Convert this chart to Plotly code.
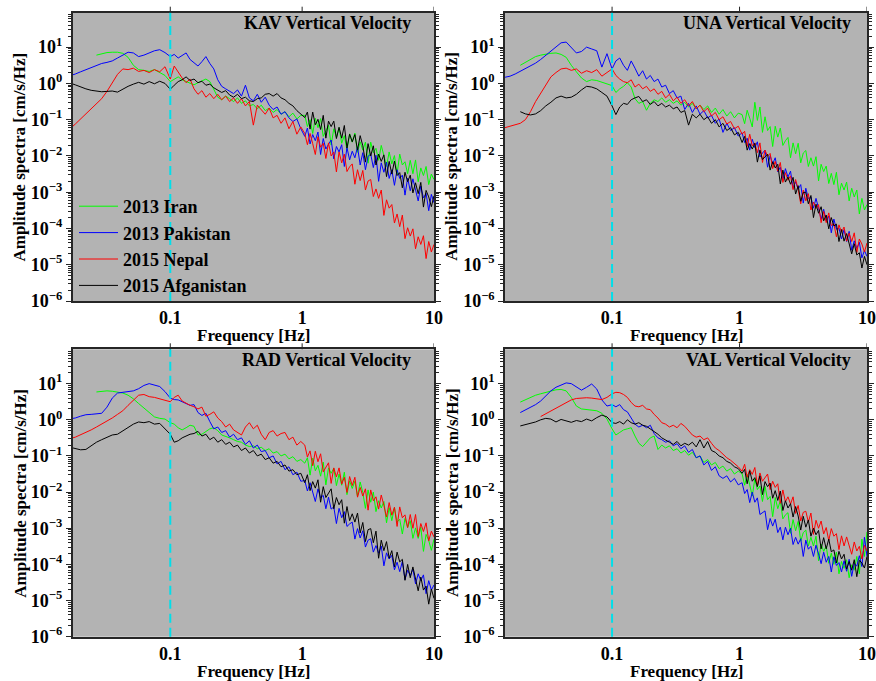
import plotly.graph_objects as go

# ---------------------------------------------------------------- data
# frequency grid, log10(Hz)
LOG_FREQ = (
    [-1.84, -1.80, -1.76, -1.72, -1.68, -1.64, -1.60, -1.56, -1.52, -1.48,
     -1.44, -1.40, -1.36, -1.32, -1.28, -1.24, -1.20, -1.16, -1.12, -1.08,
     -1.04, -1.00]
    + [-0.97, -0.94, -0.91, -0.88, -0.85, -0.82, -0.79, -0.76, -0.73, -0.70,
       -0.67, -0.64, -0.61, -0.58, -0.55, -0.52, -0.49, -0.46, -0.43, -0.40,
       -0.37, -0.34, -0.31, -0.28, -0.25, -0.22, -0.19, -0.16, -0.13, -0.10,
       -0.07, -0.04, -0.01]
    + [0.02, 0.04, 0.06, 0.08, 0.10, 0.12, 0.14, 0.16, 0.18, 0.20,
       0.22, 0.24, 0.26, 0.28, 0.30, 0.32, 0.34, 0.36, 0.38, 0.40,
       0.42, 0.44, 0.46, 0.48, 0.50, 0.52, 0.54, 0.56, 0.58, 0.60,
       0.62, 0.64, 0.66, 0.68, 0.70, 0.72, 0.74, 0.76, 0.78, 0.80,
       0.82, 0.84, 0.86, 0.88, 0.90, 0.92, 0.94, 0.96, 0.98, 1.00]
)

N = None
# amplitude spectra, log10(cm/s/Hz), one list per event and station
KAV_IRAN = (
    [N, N, N, N, N, N, N, 0.78, 0.82, 0.85, 0.86, 0.86, 0.83, 0.72, 0.50,
     0.38, 0.36, 0.33, 0.38, 0.30, 0.22, 0.05]
    + [0.12, 0.18, 0.10, 0.05, 0.00, -0.04, 0.02, 0.06, 0.12, 0.05,
       -0.18, -0.38, -0.45, -0.35, -0.42, -0.50, -0.40, -0.55, -0.48, -0.62,
       -0.58, -0.70, -0.60, -0.75, -0.68, -0.80, -0.72, -0.85, -0.78, -0.92,
       -0.82, -0.98, -0.88]
    + [-0.88, -1.19, -1.00, -1.38, -0.96, -1.22, -0.97, -1.46, -1.29, -1.15,
       -1.70, -1.25, -1.49, -1.22, -1.65, -1.44, -1.84, -1.39, -1.62, -1.37,
       -1.90, -1.61, -1.84, -1.62, -2.20, -1.62, -1.91, -1.79, -2.12, -1.71,
       -1.99, -2.29, -1.89, -2.22, -1.99, -2.50, -1.95, -2.25, -2.16, -2.49,
       -2.12, -2.49, -2.11, -2.71, -2.33, -2.54, -2.29, -2.79, -2.50, -2.65]
)
KAV_PAK = (
    [0.12, 0.16, 0.21, 0.26, 0.32, 0.38, 0.44, 0.50, 0.55, 0.58,
     0.62, 0.70, 0.78, 0.86, 0.84, 0.74, 0.78, 0.85, 0.90, 0.93, 0.85, 0.74]
    + [0.80, 0.70, 0.78, 0.84, 0.66, 0.58, 0.48, 0.60, 0.74, 0.55,
       0.40, 0.10, -0.08, -0.15, -0.22, -0.28, -0.18, -0.35, -0.05, -0.40,
       -0.48, -0.30, -0.52, -0.38, -0.60, -0.72, -0.65, -0.85, -0.78, -0.95,
       -1.05, -0.98, -1.25]
    + [-1.46, -1.23, -1.67, -1.41, -1.58, -1.34, -1.96, -1.52, -1.81, -1.68,
       -1.56, -2.08, -1.74, -1.89, -1.69, -2.29, -1.77, -2.11, -1.87, -2.05,
       -1.75, -2.25, -1.91, -2.38, -2.01, -1.95, -2.32, -1.98, -2.70, -2.19,
       -2.45, -2.17, -2.62, -2.38, -2.81, -2.38, -2.62, -2.53, -3.08, -2.61,
       -2.96, -2.63, -2.97, -3.24, -2.83, -3.16, -3.03, -3.51, -3.06, -3.29]
)
KAV_NEP = (
    [-1.45, -1.35, -1.25, -1.12, -0.98, -0.85, -0.72, -0.56, -0.42, -0.22,
     0.02, 0.25, 0.40, 0.38, 0.42, 0.33, 0.36, 0.30, 0.38, 0.32, 0.46, 0.12]
    + [0.48, 0.30, 0.15, 0.02, 0.12, -0.15, -0.30, -0.20, -0.38, -0.28,
       -0.42, -0.30, -0.45, -0.35, -0.50, -0.40, -0.55, -0.42, -0.62, -0.50,
       -1.15, -0.60, -0.72, -0.85, -0.68, -0.95, -0.88, -1.10, -0.95, -1.25,
       -1.05, -1.40, -1.20]
    + [-1.38, -1.69, -1.38, -1.66, -1.96, -1.47, -1.76, -1.65, -2.07, -1.64,
       -2.00, -1.89, -2.44, -1.89, -2.19, -1.95, -2.43, -2.30, -2.22, -2.78,
       -2.38, -2.68, -2.40, -2.94, -2.69, -2.65, -3.12, -2.91, -3.17, -2.94,
       -3.64, -3.21, -3.44, -3.34, -3.85, -3.60, -3.95, -3.63, -4.28, -3.98,
       -4.21, -4.01, -4.56, -4.23, -4.44, -4.20, -4.83, -4.36, -4.65, -4.44]
)
KAV_AFG = (
    [0.06, 0.04, 0.01, -0.04, -0.10, -0.15, -0.19, -0.22, -0.23, -0.22,
     -0.21, -0.24, -0.15, -0.08, -0.02, 0.03, -0.02, 0.05, -0.01, 0.06,
     0.00, -0.16]
    + [-0.05, 0.05, 0.10, 0.18, 0.08, 0.12, 0.02, 0.06, -0.05, -0.02,
       -0.12, -0.18, -0.25, -0.20, -0.32, -0.38, -0.30, -0.42, -0.38, -0.48,
       -0.50, -0.42, -0.40, -0.30, -0.28, -0.35, -0.28, -0.40, -0.45, -0.55,
       -0.62, -0.75, -0.85]
    + [-0.94, -0.79, -1.26, -0.79, -1.14, -0.99, -1.27, -0.88, -1.51, -1.04,
       -1.19, -1.04, -1.52, -1.21, -1.51, -1.16, -1.78, -1.40, -1.61, -1.41,
       -1.84, -1.44, -1.72, -2.17, -1.66, -2.00, -1.72, -2.25, -1.95, -2.15,
       -1.97, -2.57, -2.15, -2.50, -2.14, -2.54, -2.46, -2.88, -2.45, -2.71,
       -2.53, -3.02, -2.74, -3.04, -2.73, -3.41, -2.95, -3.13, -3.40, -3.10]
)

UNA_IRAN = (
    [N, N, N, 0.50, 0.58, 0.66, 0.74, 0.78, 0.81, 0.83, 0.84, 0.80, 0.72,
     0.50, 0.32, 0.15, 0.05, 0.10, 0.08, 0.04, -0.02, -0.06]
    + [-0.25, -0.15, -0.08, 0.02, -0.10, -0.42, -0.55, -0.50, -0.74, -0.55,
       -0.45, -0.50, -0.40, -0.52, -0.45, -0.55, -0.48, -0.60, -0.52, -0.65,
       -0.55, -0.70, -0.60, -0.72, -0.62, -0.80, -0.68, -0.85, -0.72, -0.90,
       -0.78, -0.95, -0.82]
    + [-0.86, -1.11, -0.74, -0.96, -1.20, -0.52, -1.02, -0.65, -1.35, -0.92,
       -1.30, -1.19, -1.74, -1.18, -1.48, -1.23, -1.71, -1.58, -1.49, -2.05,
       -1.64, -1.94, -1.65, -2.19, -1.92, -1.85, -2.29, -2.05, -2.28, -2.02,
       -2.69, -2.23, -2.43, -2.28, -2.76, -2.48, -2.79, -2.45, -3.07, -2.75,
       -2.94, -2.72, -3.24, -2.89, -3.13, -2.94, -3.60, -3.17, -3.49, -3.34]
)
UNA_PAK = (
    [0.17, 0.20, 0.26, 0.33, 0.40, 0.48, 0.56, 0.66, 0.78, 0.90,
     1.02, 1.12, 1.14, 1.00, 0.84, 0.88, 1.00, 0.95, 0.90, 0.45, 0.82, 0.40]
    + [0.62, 0.70, 0.50, 0.36, 0.62, 0.42, 0.20, 0.35, 0.12, 0.22,
       0.05, 0.12, -0.10, -0.05, -0.28, -0.20, -0.40, -0.35, -0.72, -0.55,
       -0.80, -0.62, -0.85, -0.75, -0.95, -0.88, -1.10, -0.98, -1.35, -1.10,
       -1.30, -1.22, -1.45]
    + [-1.36, -1.63, -1.51, -1.84, -1.54, -1.77, -1.61, -2.03, -1.92, -1.84,
       -2.31, -1.99, -2.22, -2.05, -2.44, -2.31, -2.67, -2.35, -2.58, -2.42,
       -2.89, -2.71, -2.92, -2.79, -3.30, -2.89, -3.18, -3.13, -3.44, -3.17,
       -3.45, -3.75, -3.47, -3.79, -3.66, -4.12, -3.74, -4.02, -3.99, -4.29,
       -4.03, -4.36, -4.08, -4.60, -4.34, -4.55, -4.38, -4.81, -4.61, -4.77]
)
UNA_NEP = (
    [-1.22, -1.18, -1.15, -1.10, -1.00, -0.78, -0.50, -0.28, -0.05, 0.18,
     0.30, 0.40, 0.42, 0.36, 0.40, 0.28, 0.35, 0.30, 0.38, 0.20, 0.30, 0.40]
    + [0.22, 0.12, 0.05, 0.02, 0.10, -0.10, -0.02, -0.15, -0.08, -0.22,
       -0.15, -0.30, -0.22, -0.40, -0.30, -0.48, -0.38, -0.55, -0.45, -0.62,
       -0.50, -0.70, -0.60, -0.78, -0.68, -0.90, -0.80, -1.00, -0.92, -1.12,
       -1.05, -1.25, -1.18]
    + [-1.40, -1.32, -1.74, -1.40, -1.72, -1.64, -1.91, -1.64, -2.18, -1.84,
       -2.01, -1.93, -2.35, -2.15, -2.42, -2.18, -2.73, -2.46, -2.67, -2.55,
       -2.93, -2.65, -2.92, -3.32, -2.94, -3.24, -3.04, -3.49, -3.27, -3.45,
       -3.34, -3.84, -3.53, -3.84, -3.57, -3.92, -3.87, -4.23, -3.90, -4.10,
       -3.96, -4.35, -4.13, -4.36, -4.12, -4.66, -4.29, -4.43, -4.65, -4.40]
)
UNA_AFG = (
    [N, N, N, -0.78, -0.84, -0.87, -0.84, -0.75, -0.62, -0.52, -0.40, -0.35,
     -0.40, -0.38, -0.30, -0.18, -0.08, -0.10, -0.15, -0.25, -0.35, -0.62]
    + [-0.86, -0.65, -0.55, -0.58, -0.45, -0.40, -0.36, -0.50, -0.45, -0.58,
       -0.50, -0.62, -0.55, -0.65, -0.60, -0.70, -0.65, -0.80, -0.75, -1.15,
       -0.85, -0.95, -0.85, -1.00, -0.92, -1.10, -1.00, -1.20, -1.10, -1.30,
       -1.22, -1.42, -1.35]
    + [-1.63, -1.46, -1.84, -1.66, -1.81, -1.65, -2.17, -1.84, -2.10, -2.02,
       -1.95, -2.39, -2.16, -2.33, -2.23, -2.77, -2.39, -2.72, -2.58, -2.78,
       -2.59, -3.05, -2.82, -3.25, -3.01, -3.00, -3.32, -3.09, -3.70, -3.33,
       -3.58, -3.40, -3.79, -3.63, -4.01, -3.70, -3.93, -3.88, -4.36, -4.03,
       -4.35, -4.14, -4.44, -4.70, -4.42, -4.73, -4.67, -5.09, -4.77, -5.00]
)

RAD_IRAN = (
    [N, N, N, N, N, N, N, 0.77, 0.79, 0.80, 0.79, 0.77, 0.74, 0.68, 0.58,
     0.45, 0.32, 0.20, 0.08, 0.04, 0.02, -0.08]
    + [-0.12, -0.22, -0.28, -0.22, -0.15, -0.18, -0.42, -0.40, -0.32, -0.25,
       -0.22, -0.30, -0.42, -0.45, -0.50, -0.55, -0.60, -0.62, -0.70, -0.74,
       -0.72, -0.80, -0.76, -0.85, -0.80, -0.92, -0.88, -1.00, -0.95, -1.08,
       -1.02, -1.15, -1.10]
    + [-1.20, -1.05, -1.53, -1.06, -1.41, -1.26, -1.56, -1.17, -1.80, -1.33,
       -1.48, -1.34, -1.82, -1.50, -1.81, -1.45, -2.07, -1.69, -1.90, -1.70,
       -2.12, -1.72, -2.01, -2.45, -1.94, -2.28, -2.00, -2.54, -2.24, -2.44,
       -2.26, -2.85, -2.43, -2.79, -2.43, -2.83, -2.75, -3.16, -2.73, -2.98,
       -2.79, -3.28, -2.99, -3.28, -2.97, -3.64, -3.17, -3.34, -3.61, -3.30]
)
RAD_PAK = (
    [-0.02, 0.00, 0.02, 0.05, 0.10, 0.14, 0.15, 0.16, 0.18, 0.35,
     0.60, 0.74, 0.76, 0.78, 0.80, 0.86, 0.95, 1.00, 0.96, 0.92, 0.78, 0.60]
    + [0.56, 0.55, 0.50, 0.46, 0.40, 0.42, 0.20, 0.12, 0.18, -0.05,
       -0.25, -0.20, -0.35, -0.30, -0.48, -0.40, -0.55, -0.50, -0.68, -0.58,
       -0.78, -0.70, -0.88, -0.85, -1.05, -1.00, -1.22, -1.15, -1.38, -1.30,
       -1.52, -1.45, -1.70]
    + [-1.68, -1.97, -1.74, -2.00, -2.26, -1.91, -2.16, -2.09, -2.46, -2.14,
       -2.47, -2.41, -2.87, -2.45, -2.71, -2.54, -2.95, -2.88, -2.83, -3.30,
       -3.01, -3.27, -3.07, -3.52, -3.33, -3.29, -3.66, -3.48, -3.69, -3.49,
       -4.04, -3.68, -3.85, -3.75, -4.15, -3.94, -4.20, -3.92, -4.42, -4.16,
       -4.31, -4.13, -4.54, -4.26, -4.45, -4.29, -4.81, -4.45, -4.71, -4.57]
)
RAD_NEP = (
    [-0.60, -0.55, -0.52, -0.48, -0.42, -0.35, -0.28, -0.20, -0.12, -0.05,
     0.05, 0.15, 0.25, 0.40, 0.55, 0.68, 0.70, 0.64, 0.62, 0.58, 0.54, 0.50]
    + [0.62, 0.68, 0.52, 0.45, 0.40, 0.36, 0.30, 0.35, 0.10, 0.15,
       0.22, 0.05, -0.05, -0.20, -0.12, -0.28, -0.35, -0.42, -0.20, -0.08,
       -0.25, -0.15, -0.40, -0.55, -0.35, -0.30, -0.45, -0.38, -0.35, -0.55,
       -0.48, -0.70, -0.60]
    + [-0.70, -1.03, -0.86, -1.27, -0.87, -1.16, -0.94, -1.44, -1.30, -1.19,
       -1.76, -1.33, -1.58, -1.33, -1.78, -1.59, -2.01, -1.57, -1.82, -1.59,
       -2.14, -1.87, -2.11, -1.91, -2.50, -1.94, -2.24, -2.13, -2.47, -2.08,
       -2.37, -2.69, -2.29, -2.64, -2.42, -2.95, -2.41, -2.71, -2.63, -2.98,
       -2.62, -3.00, -2.62, -3.23, -2.87, -3.09, -2.85, -3.35, -3.08, -3.24]
)
RAD_AFG = (
    [-0.70, -0.75, -0.76, -0.80, -0.83, -0.82, -0.72, -0.62, -0.55, -0.48,
     -0.42, -0.40, -0.30, -0.22, -0.12, -0.06, -0.08, -0.05, -0.12, -0.10,
     -0.25, -0.40]
    + [-0.62, -0.58, -0.50, -0.45, -0.40, -0.38, -0.32, -0.45, -0.40, -0.55,
       -0.48, -0.62, -0.55, -0.68, -0.62, -0.75, -0.70, -0.85, -0.78, -0.92,
       -0.85, -1.00, -0.95, -1.10, -1.05, -1.20, -1.15, -1.30, -1.25, -1.42,
       -1.38, -1.52, -1.48]
    + [-1.74, -1.52, -1.96, -1.71, -1.89, -1.66, -2.28, -1.85, -2.15, -2.03,
       -1.91, -2.46, -2.15, -2.35, -2.21, -2.86, -2.40, -2.79, -2.60, -2.83,
       -2.58, -3.13, -2.84, -3.37, -3.04, -3.01, -3.40, -3.08, -3.83, -3.33,
       -3.62, -3.37, -3.83, -3.62, -4.07, -3.66, -3.93, -3.86, -4.44, -4.00,
       -4.37, -4.07, -4.43, -4.73, -4.35, -4.71, -4.60, -5.10, -4.68, -4.94]
)

VAL_IRAN = (
    [N, N, N, 0.49, 0.56, 0.62, 0.68, 0.72, 0.76, 0.80, 0.83, 0.84, 0.80,
     0.62, 0.38, 0.30, 0.28, 0.27, 0.25, 0.18, 0.02, -0.25]
    + [-0.42, -0.35, -0.28, -0.25, -0.22, -0.45, -0.65, -0.74, -0.62, -0.50,
       -0.45, -0.82, -0.70, -0.78, -0.72, -0.85, -0.80, -0.92, -0.85, -0.98,
       -0.90, -1.05, -1.00, -1.18, -1.10, -1.25, -1.18, -1.35, -1.28, -1.42,
       -1.35, -1.50, -1.42]
    + [-1.49, -1.81, -1.51, -1.80, -2.11, -1.63, -1.93, -1.83, -2.26, -1.84,
       -2.21, -2.12, -2.68, -2.15, -2.46, -2.24, -2.74, -2.63, -2.57, -3.14,
       -2.76, -3.07, -2.81, -3.36, -3.12, -3.05, -3.49, -3.25, -3.49, -3.22,
       -3.90, -3.44, -3.64, -3.49, -3.97, -3.69, -4.00, -3.66, -4.26, -3.92,
       -4.11, -3.87, -4.37, -4.01, -4.16, -3.78, -4.26, -3.30, -3.78, -3.10]
)
VAL_PAK = (
    [N, N, N, 0.20, 0.27, 0.34, 0.42, 0.52, 0.65, 0.80, 0.90, 0.97, 1.02,
     1.00, 0.92, 0.82, 0.90, 0.99, 0.85, 0.55, 0.38, 0.42]
    + [0.36, 0.42, 0.28, 0.22, 0.05, -0.12, -0.20, -0.15, -0.22, -0.15,
       -0.38, -0.50, -0.55, -0.62, -0.58, -0.72, -0.66, -0.80, -0.72, -0.90,
       -0.82, -1.05, -1.00, -1.25, -1.15, -1.40, -1.30, -1.55, -1.62, -1.55,
       -1.72, -1.62, -1.80]
    + [-1.74, -2.04, -1.93, -2.29, -2.00, -2.28, -2.16, -2.62, -2.56, -2.52,
       -3.04, -2.73, -2.94, -2.75, -3.12, -2.97, -3.32, -2.97, -3.18, -3.00,
       -3.45, -3.25, -3.44, -3.29, -3.78, -3.33, -3.58, -3.50, -3.78, -3.47,
       -3.71, -3.98, -3.66, -3.94, -3.78, -4.21, -3.79, -4.03, -3.95, -4.21,
       -3.90, -4.19, -3.86, -4.33, -3.97, -4.05, -3.76, -4.06, -3.25, -3.78]
)
VAL_NEP = (
    [N, N, N, N, N, N, N, 0.09, 0.17, 0.25, 0.33, 0.41, 0.48, 0.55, 0.59,
     0.61, 0.61, 0.60, 0.59, 0.56, 0.62, 0.72]
    + [0.76, 0.75, 0.70, 0.62, 0.48, 0.38, 0.36, 0.40, 0.30, 0.28,
       0.15, 0.05, -0.08, -0.12, -0.20, -0.15, -0.22, -0.10, -0.18, -0.30,
       -0.42, -0.48, -0.45, -0.55, -0.50, -0.65, -0.78, -0.85, -0.95, -1.05,
       -1.12, -1.20, -1.30]
    + [-1.42, -1.23, -1.59, -1.38, -1.51, -1.32, -1.82, -1.47, -1.70, -1.59,
       -1.50, -1.93, -1.70, -1.87, -1.77, -2.31, -1.94, -2.27, -2.13, -2.33,
       -2.13, -2.59, -2.37, -2.80, -2.56, -2.53, -2.83, -2.58, -3.17, -2.78,
       -3.00, -2.80, -3.16, -2.98, -3.34, -3.01, -3.22, -3.15, -3.59, -3.21,
       -3.49, -3.24, -3.50, -3.72, -3.38, -3.63, -3.50, -3.85, -3.47, -3.63]
)
VAL_AFG = (
    [N, N, N, -0.17, -0.14, -0.10, -0.06, 0.00, 0.04, 0.02, -0.06, 0.01,
     -0.04, -0.07, -0.02, -0.05, 0.02, -0.03, 0.06, 0.13, 0.08, -0.08]
    + [-0.10, -0.05, -0.12, 0.00, -0.08, -0.12, -0.08, -0.15, -0.18, -0.25,
       -0.32, -0.40, -0.50, -0.55, -0.62, -0.68, -0.60, -0.72, -0.65, -0.70,
       -0.62, -0.75, -0.55, -0.78, -0.60, -0.85, -0.90, -1.00, -1.05, -1.15,
       -1.20, -1.30, -1.35]
    + [-1.48, -1.37, -1.77, -1.41, -1.70, -1.60, -1.85, -1.55, -2.07, -1.71,
       -1.85, -1.75, -2.17, -1.96, -2.23, -1.97, -2.51, -2.24, -2.44, -2.32,
       -2.69, -2.40, -2.66, -3.05, -2.67, -2.97, -2.77, -3.22, -3.00, -3.18,
       -3.06, -3.57, -3.26, -3.57, -3.30, -3.65, -3.60, -3.96, -3.64, -3.85,
       -3.72, -4.13, -3.92, -4.16, -3.87, -4.34, -3.89, -3.96, -4.10, -3.78]
)

EVENTS = ["2013 Iran", "2013 Pakistan", "2015 Nepal", "2015 Afganistan"]
STATIONS = ["KAV", "UNA", "RAD", "VAL"]
SPECTRA = {
    "KAV": [KAV_IRAN, KAV_PAK, KAV_NEP, KAV_AFG],
    "UNA": [UNA_IRAN, UNA_PAK, UNA_NEP, UNA_AFG],
    "RAD": [RAD_IRAN, RAD_PAK, RAD_NEP, RAD_AFG],
    "VAL": [VAL_IRAN, VAL_PAK, VAL_NEP, VAL_AFG],
}
Y_TICK_EXP = [-6, -5, -4, -3, -2, -1, 0, 1]
X_TICKS = [0.1, 1, 10]
X_TICK_TEXT = ["0.1", "1", "10"]
MARKER_FREQ = 0.1

# ---------------------------------------------------------------- style
W, H = 876, 681
FONT = "Liberation Serif"
COLORS = ["#00ff00", "#0000ff", "#ff0000", "#000000"]
FRAME = "#262626"
PANEL_BG = "#b3b3b3"
CYAN = "#00dfea"

# panel boxes in page pixels: (left, top, right, bottom)
COLS = [(72.7, 434.0), (505.0, 867.0)]
ROWS = [(12.7, 301.0), (349.3, 636.7)]
XMIN_LOG = [-1.74, -1.84]
TITLE_INSET = [21, 14]

freq = [10 ** v for v in LOG_FREQ]


def to_amp(seq):
    assert len(seq) == len(LOG_FREQ)
    return [None if v is None else 10 ** v for v in seq]


def bold(size):
    return dict(family=FONT, size=size, color="black", weight="bold")


def sup(e):
    return "10<sup>" + str(e).replace("-", "\u2212") + "</sup>"


fig = go.Figure()
layout = dict(
    width=W, height=H,
    margin=dict(l=0, r=0, t=0, b=0),
    paper_bgcolor="white", plot_bgcolor=PANEL_BG,
    showlegend=True,
    legend=dict(
        x=74 / W, y=1 - 188 / H, xanchor="left", yanchor="top",
        bgcolor="rgba(0,0,0,0)", font=bold(18), itemwidth=39,
        tracegroupgap=0,
    ),
)
annotations, shapes = [], []

for i, st in enumerate(STATIONS):
    row, col = divmod(i, 2)
    sfx = "" if i == 0 else str(i + 1)
    xl, xr = COLS[col]
    yt, yb = ROWS[row]
    xdom = [xl / W, xr / W]
    ydom = [1 - yb / H, 1 - yt / H]

    for k, ev in enumerate(EVENTS):
        fig.add_trace(go.Scatter(
            x=freq, y=to_amp(SPECTRA[st][k]), mode="lines", name=ev,
            line=dict(color=COLORS[k], width=1),
            xaxis="x" + sfx, yaxis="y" + sfx,
            showlegend=(i == 0), legendgroup=ev,
        ))

    layout["xaxis" + sfx] = dict(
        domain=xdom, anchor="y" + sfx, type="log",
        range=[XMIN_LOG[col], 1.0],
        tickmode="array", tickvals=X_TICKS, ticktext=X_TICK_TEXT,
        ticks="", showline=True, mirror=True, linecolor=FRAME, linewidth=1.5,
        showgrid=False, zeroline=False, tickfont=bold(18),
        automargin=False, ticklabelstandoff=0,
    )
    layout["yaxis" + sfx] = dict(
        domain=ydom, anchor="x" + sfx, type="log", range=[-6, 1.95],
        tickmode="array", tickvals=[10 ** e for e in Y_TICK_EXP],
        ticktext=[sup(e) for e in Y_TICK_EXP],
        ticks="outside", ticklen=5, tickwidth=1, tickcolor=FRAME,
        minor=dict(ticks="outside", ticklen=3, tickwidth=1,
                   tickcolor=FRAME, dtick="D1", showgrid=False),
        showline=True, mirror="allticks", linecolor=FRAME, linewidth=1.5,
        showgrid=False, zeroline=False, tickfont=bold(18),
        automargin=False,
    )

    # panel title inside the top-right corner
    annotations.append(dict(
        text=f"{st} Vertical Velocity", font=bold(18), showarrow=False,
        xref="paper", yref="paper",
        x=(xr - TITLE_INSET[col]) / W, y=1 - (yt + 10.5) / H,
        xanchor="right", yanchor="middle",
    ))
    # axis titles
    annotations.append(dict(
        text="Frequency [Hz]", font=bold(17), showarrow=False,
        xref="paper", yref="paper", x=(xl + xr) / 2 / W,
        y=1 - (yb + 34.5) / H, xanchor="center", yanchor="middle",
    ))
    annotations.append(dict(
        text="Amplitude spectra [cm/s/Hz]", font=bold(17), showarrow=False,
        textangle=-90, xref="paper", yref="paper",
        x=(xl - 53) / W, y=(ydom[0] + ydom[1]) / 2,
        xanchor="center", yanchor="middle",
    ))
    # dashed marker at 0.1 Hz
    shapes.append(dict(
        type="line", xref="x" + sfx, yref=f"y{sfx} domain",
        x0=MARKER_FREQ, x1=MARKER_FREQ, y0=0, y1=1,
        line=dict(color=CYAN, width=2, dash="9px,5px"),
    ))
    # major frequency ticks along the top edge
    for xv in X_TICKS:
        shapes.append(dict(
            type="line", xref="x" + sfx, yref=f"y{sfx} domain",
            x0=xv, x1=xv, y0=1, y1=1 + 6 / (yb - yt),
            line=dict(color=FRAME, width=1),
        ))

layout["annotations"] = annotations
layout["shapes"] = shapes
fig.update_layout(**layout)
fig.write_html("out.html")
